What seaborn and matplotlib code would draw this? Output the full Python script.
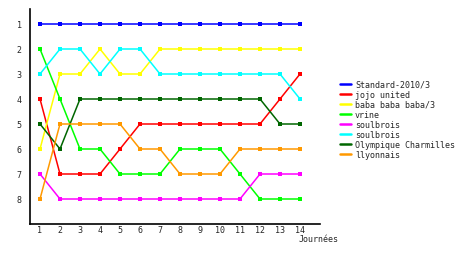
import matplotlib
matplotlib.use("Agg")
import matplotlib.pyplot as plt
import seaborn as sns
import pandas as pd

journees = list(range(1, 15))
teams = ["Standard-2010/3", "jojo united", "baba baba baba/3", "vrine",
         "soulbrois", "soulbrois", "Olympique Charmilles", "llyonnais"]
standard = [1, 1, 1, 1, 1, 1, 1, 1, 1, 1, 1, 1, 1, 1]
jojo = [4, 7, 7, 7, 6, 5, 5, 5, 5, 5, 5, 5, 4, 3]
baba = [6, 3, 3, 2, 3, 3, 2, 2, 2, 2, 2, 2, 2, 2]
vrine = [2, 4, 6, 6, 7, 7, 7, 6, 6, 6, 7, 8, 8, 8]
soulbrois_m = [7, 8, 8, 8, 8, 8, 8, 8, 8, 8, 8, 7, 7, 7]
soulbrois_c = [3, 2, 2, 3, 2, 2, 3, 3, 3, 3, 3, 3, 3, 4]
olympique = [5, 6, 4, 4, 4, 4, 4, 4, 4, 4, 4, 4, 5, 5]
lyonnais = [8, 5, 5, 5, 5, 6, 6, 7, 7, 7, 6, 6, 6, 6]
series = [standard, jojo, baba, vrine, soulbrois_m, soulbrois_c, olympique, lyonnais]
colors = ["#0000FF", "#FF0000", "#FFFF00", "#00FF00", "#FF00FF", "#00FFFF", "#006600", "#FF9900"]
x_label = "Journées"

sns.set_style("white")
plt.rcParams['font.family'] = ['DejaVu Sans Mono', 'DejaVu Sans']

fig = plt.figure(figsize=(4.6, 2.55), dpi=100)
ax = fig.add_axes([30/460, 30/255, 290/460, 215/255])

for name, vals, col in zip(teams, series, colors):
    df = pd.DataFrame({"j": journees, "rank": vals})
    sns.lineplot(data=df, x="j", y="rank", color=col, marker="s", markersize=3,
                 markeredgewidth=0, linewidth=1.1, label=name, ax=ax)

ax.set_xlim(0.5, 15)
ax.set_ylim(9, 0.4)
ax.set_xticks(journees)
ax.set_yticks(range(1, 9))
ax.tick_params(axis='both', length=0, labelsize=6, pad=1)
ax.tick_params(axis='y', pad=6)
ax.set_xlabel("")
ax.set_ylabel("")
for s in ["top", "right"]:
    ax.spines[s].set_visible(False)
for s in ["left", "bottom"]:
    ax.spines[s].set_color("black")
    ax.spines[s].set_linewidth(1.2)
ax.grid(False)

leg = ax.legend(loc="upper left", bbox_to_anchor=(340/460, 1 - 81/255),
                bbox_transform=fig.transFigure, frameon=False, fontsize=6,
                handlelength=1.35, handletextpad=0.45, labelspacing=0.12,
                borderaxespad=0, borderpad=0)
for h in leg.get_lines():
    h.set_marker("")
    h.set_linewidth(1.8)

fig.text(299/460, 1 - 240/255, x_label, fontsize=6, va="center", ha="left")

fig.savefig("out.png", dpi=100)
